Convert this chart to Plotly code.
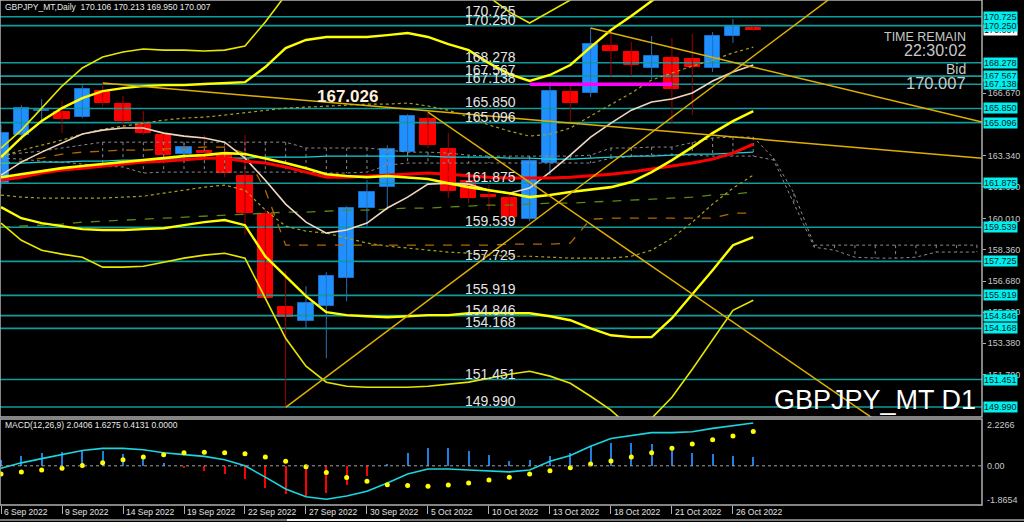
import plotly.graph_objects as go

# ---------------- data ----------------
dates = ["6 Sep 2022", "7 Sep 2022", "8 Sep 2022", "9 Sep 2022", "12 Sep 2022", "13 Sep 2022",
         "14 Sep 2022", "15 Sep 2022", "16 Sep 2022", "19 Sep 2022", "20 Sep 2022", "21 Sep 2022",
         "22 Sep 2022", "23 Sep 2022", "26 Sep 2022", "27 Sep 2022", "28 Sep 2022", "29 Sep 2022",
         "30 Sep 2022", "3 Oct 2022", "4 Oct 2022", "5 Oct 2022", "6 Oct 2022", "7 Oct 2022",
         "10 Oct 2022", "11 Oct 2022", "12 Oct 2022", "13 Oct 2022", "14 Oct 2022", "17 Oct 2022",
         "18 Oct 2022", "19 Oct 2022", "20 Oct 2022", "21 Oct 2022", "24 Oct 2022", "25 Oct 2022",
         "26 Oct 2022", "27 Oct 2022"]

opens = [161.88, 164.43, 165.74, 165.66, 165.39, 166.77, 166.08, 165.07, 164.44, 163.43, 163.59, 163.43,
         162.26, 160.24, 155.29, 154.55, 155.35, 156.83, 160.56, 161.67, 163.53, 165.29, 163.69, 161.99,
         161.25, 161.09, 159.97, 162.95, 166.72, 166.67, 169.17, 168.85, 168.00, 168.53, 168.48, 168.00,
         169.70, 170.106]
highs = [165.00, 166.03, 166.35, 166.24, 167.09, 167.20, 166.51, 165.71, 164.54, 164.01, 164.44, 164.01,
         164.44, 160.45, 157.21, 156.41, 157.15, 160.66, 162.04, 163.90, 165.55, 165.66, 164.54, 162.31,
         161.78, 161.35, 163.32, 167.25, 167.04, 170.12, 169.86, 169.38, 169.70, 169.59, 169.80, 169.91,
         170.60, 170.213]
lows = [161.60, 164.17, 165.07, 164.54, 165.34, 165.98, 164.81, 164.44, 163.27, 163.00, 163.11, 162.20,
        159.12, 155.66, 149.97, 154.12, 152.58, 155.61, 159.49, 160.61, 163.32, 163.75, 161.09, 160.82,
        160.45, 159.81, 159.86, 162.31, 165.13, 166.46, 167.57, 167.57, 167.41, 165.02, 165.50, 167.79,
        169.33, 169.950]
closes = [164.54, 165.87, 165.78, 165.28, 166.88, 166.14, 165.18, 164.54, 163.37, 163.80, 163.48, 162.42,
          160.29, 155.77, 154.76, 155.50, 156.94, 160.56, 161.41, 163.69, 165.45, 163.90, 161.46, 161.09,
          161.14, 160.08, 163.05, 166.77, 166.14, 169.27, 168.90, 168.16, 168.64, 166.88, 168.05, 169.70,
          170.25, 170.007]

# indicator lines (one value per bar)
ma_red = [162.04, 162.20, 162.42, 162.58, 162.68, 162.79, 162.90, 163.00, 163.05, 163.11, 163.21, 163.21,
          163.05, 162.95, 162.74, 162.47, 162.20, 162.20, 162.26, 162.31, 162.36, 162.42, 162.36, 162.26,
          162.20, 162.15, 162.15, 162.15, 162.20, 162.26, 162.36, 162.47, 162.63, 162.79, 162.95, 163.16,
          163.48, 163.96]
ma_yellow = [162.20, 162.36, 162.52, 162.68, 162.79, 162.90, 163.00, 163.11, 163.21, 163.32, 163.37, 163.48,
             163.43, 163.21, 162.95, 162.68, 162.36, 162.26, 162.20, 162.26, 162.20, 162.10, 161.88, 161.67,
             161.51, 161.35, 161.14, 161.25, 161.41, 161.56, 161.67, 161.94, 162.47, 163.11, 163.80, 164.54,
             165.18, 165.71]
band_up2 = [163.27, 164.30, 165.18, 165.87, 166.40, 166.77, 166.93, 167.04, 167.09, 167.09, 167.15, 167.20,
            167.25, 168.05, 169.06, 169.49, 169.65, 169.65, 169.65, 169.75, 169.86, 169.65, 169.27, 168.95,
            168.26, 167.68, 167.31, 167.63, 168.16, 169.11, 170.02, 170.76, 171.56, 172.25, 172.94, 173.47,
            173.85, 174.17]
band_up3 = [163.74, 164.70, 165.87, 167.04, 168.00, 168.58, 168.85, 169.01, 168.95, 168.95, 168.90, 168.95,
            169.17, 170.44, 171.88, 173.21, 173.74, 174.01, 174.01, 174.01, 173.74, 173.21, 172.68, 172.14,
            171.77, 170.98, 170.39, 170.98, 171.61, 172.25, 172.94, 173.74, 174.27, 174.80, 175.33, 175.87,
            176.40, 176.93]
band_lo2 = [160.61, 160.02, 159.76, 159.60, 159.44, 159.39, 159.39, 159.44, 159.49, 159.65, 159.81, 159.92,
            159.65, 157.99, 156.94, 155.88, 155.03, 154.87, 154.81, 154.76, 154.81, 154.87, 154.87, 154.97,
            154.97, 154.97, 154.97, 154.81, 154.60, 154.17, 153.80, 153.70, 153.70, 154.71, 155.98, 157.26,
            158.59, 159.01]
band_lo3 = [159.76, 158.85, 158.32, 158.11, 157.95, 157.42, 157.42, 157.47, 157.68, 157.90, 158.06, 158.16,
            157.90, 155.77, 153.64, 152.16, 151.31, 151.09, 151.04, 151.04, 151.04, 151.09, 151.20, 151.31,
            151.52, 151.73, 151.89, 151.63, 151.25, 150.56, 149.82, 148.86, 149.39, 150.51, 152.00, 153.59,
            155.13, 155.66]
ma_beige = [162.31, 163.00, 163.53, 164.01, 164.49, 164.70, 164.81, 164.81, 164.54, 164.38, 164.28, 164.06,
            163.21, 162.04, 160.77, 159.81, 159.23, 159.39, 159.76, 160.56, 161.14, 161.83, 161.88, 161.83,
            161.51, 161.35, 161.62, 162.47, 163.37, 164.33, 165.07, 165.76, 166.19, 166.35, 166.67, 167.31,
            167.79, 168.16]
ma_cyan = [162.95, 162.95, 163.00, 163.00, 163.05, 163.05, 163.11, 163.11, 163.16, 163.16, 163.21, 163.21,
           163.21, 163.27, 163.27, 163.27, 163.32, 163.32, 163.32, 163.32, 163.32, 163.32, 163.27, 163.27,
           163.27, 163.21, 163.21, 163.16, 163.16, 163.21, 163.27, 163.32, 163.32, 163.37, 163.43, 163.43,
           163.48, 163.53]
dot_up = [163.27, 163.64, 163.90, 164.17, 164.49, 164.75, 164.91, 165.07, 165.23, 165.34, 165.39, 165.50,
          165.61, 165.76, 165.87, 165.92, 165.98, 166.03, 166.08, 166.08, 166.14, 165.98, 165.76, 165.39,
          164.97, 164.65, 164.38, 164.49, 164.81, 165.45, 166.08, 166.67, 167.36, 167.73, 168.10, 168.42,
          168.80, 169.11]
dot_lo = [161.25, 161.14, 161.09, 161.09, 161.09, 161.09, 161.14, 161.19, 161.35, 161.51, 161.67, 161.78,
          161.51, 160.45, 159.60, 159.33, 159.23, 158.96, 158.70, 158.54, 158.43, 158.32, 158.22, 158.16,
          158.06, 158.00, 158.00, 157.95, 157.90, 157.90, 157.90, 158.00, 158.32, 158.96, 159.81, 160.77,
          161.62, 162.31]
kijun = [162.95, 163.05, 163.21, 163.43, 163.53, 163.59, 163.64, 163.64, 163.69, 163.75, 163.80, 163.80,
         163.48, 161.51, 158.59, 158.59, 158.59, 158.59, 158.59, 158.59, 158.59, 158.59, 158.59, 158.59,
         158.59, 158.64, 158.64, 158.64, 158.70, 159.97, 160.02, 160.02, 160.02, 160.02, 160.02, 160.02,
         160.29, 160.29]
ma_long = [159.55, 159.60, 159.65, 159.71, 159.81, 159.86, 159.92, 159.97, 160.02, 160.08, 160.13, 160.18,
           160.24, 160.29, 160.34, 160.34, 160.40, 160.45, 160.45, 160.50, 160.56, 160.56, 160.61, 160.66,
           160.72, 160.72, 160.77, 160.82, 160.82, 160.87, 160.93, 160.98, 161.03, 161.09, 161.14, 161.25,
           161.30, 161.41]
# cloud spans (extend 11 bars into the future)
span_a = [163.37, 163.48, 163.59, 163.75, 163.90, 164.06, 164.06, 164.06, 164.06, 164.06, 164.06, 164.06,
          164.06, 164.06, 164.06, 163.75, 163.75, 163.75, 163.75, 163.64, 163.53, 163.53, 163.48, 163.37,
          163.32, 163.32, 163.32, 163.32, 163.32, 163.37, 163.75, 163.75, 163.80, 163.80, 164.06, 164.28,
          164.33, 164.33, 163.21, 161.35, 158.59, 158.59, 158.59, 158.59, 158.59, 158.59, 158.59, 158.59,
          158.59]
span_b = [163.21, 163.16, 163.05, 163.00, 162.90, 162.79, 162.74, 162.42, 162.47, 162.47, 162.47, 162.47,
          162.47, 162.47, 162.47, 162.47, 162.42, 162.42, 162.47, 162.84, 162.95, 162.95, 162.95, 162.95,
          162.95, 162.95, 162.95, 162.95, 162.95, 162.95, 163.21, 163.27, 163.37, 163.37, 163.37, 163.32,
          163.32, 163.32, 163.11, 160.82, 158.48, 158.32, 157.95, 157.90, 157.90, 157.95, 158.22, 158.22,
          158.22]

# trend lines: (start bar, start price, end bar, end price)
trend_gold = [(14, 149.97, 41.0, 171.87),
              (29, 170.12, 48.25, 165.13),
              (5, 167.20, 48.25, 163.21),
              (21, 165.65, 43.0, 149.30)]
magenta_line = (26, 33, 167.138)

levels = [170.725, 170.250, 168.278, 167.567, 167.138, 165.850, 165.096, 161.875, 159.539,
          157.725, 155.919, 154.846, 154.168, 151.451, 149.990]
price_ticks = [166.670, 163.340, 161.690, 160.010, 158.360, 156.680, 155.020, 153.380, 151.700]
bid = 170.007

# MACD panel
macd_hist = [0.26, 0.49, 0.62, 0.65, 0.73, 0.70, 0.54, 0.45, 0.11, -0.11, -0.23, -0.39, -0.62, -1.05,
             -1.36, -1.44, -1.31, -0.90, -0.48, 0.06, 0.60, 0.83, 0.83, 0.70, 0.53, 0.23, 0.26, 0.49,
             0.62, 0.93, 1.07, 1.07, 1.04, 0.80, 0.62, 0.57, 0.49, 0.41]
macd_signal = [-0.39, -0.29, -0.20, -0.12, 0.02, 0.15, 0.29, 0.42, 0.53, 0.62, 0.65, 0.62, 0.57, 0.42,
               0.22, -0.05, -0.32, -0.56, -0.74, -0.90, -0.94, -0.97, -0.91, -0.82, -0.68, -0.54, -0.39,
               -0.23, -0.09, 0.09, 0.23, 0.42, 0.62, 0.83, 1.04, 1.24, 1.42, 1.63]
macd_main = [-0.12, 0.14, 0.34, 0.53, 0.73, 0.83, 0.83, 0.76, 0.62, 0.53, 0.45, 0.29, 0.0, -0.54, -1.10,
             -1.47, -1.59, -1.44, -1.21, -0.82, -0.39, -0.15, -0.15, -0.20, -0.23, -0.29, -0.20, 0.22,
             0.49, 0.93, 1.30, 1.45, 1.58, 1.58, 1.62, 1.78, 1.90, 2.04]
macd_range = (-1.8654, 2.2266)
date_tick_step = 3

# ---------------- figure ----------------
W, H = 1024, 522
M_L, M_R, M_T, M_B = 0, 42, 0, 17
PH = H - M_T - M_B
main_dom = [(PH - 417) / PH, 1.0]
macd_dom = [0.0, (PH - 419) / PH]
xr = [-0.05, 48.25]
price_range = [149.459, 171.613]

idx = list(range(len(dates)))
fig = go.Figure()

# horizontal levels
for lv in levels:
    fig.add_trace(go.Scatter(x=xr, y=[lv, lv], mode="lines",
                             line=dict(color="#0e9c9c", width=1.6), hoverinfo="skip", showlegend=False))

# candles: wicks
up = [c >= o for o, c in zip(opens, closes)]
for flag, col in ((True, "#2a6fb5"), (False, "#a00000")):
    wx, wy = [], []
    for i in idx:
        if up[i] == flag:
            wx += [i, i, None]
            wy += [lows[i], highs[i], None]
    fig.add_trace(go.Scatter(x=wx, y=wy, mode="lines", line=dict(color=col, width=1),
                             hoverinfo="skip", showlegend=False))
# candles: bodies
for flag, fill, edge in ((True, "#1e90ff", "#1a6fc4"), (False, "#ff0000", "#ff0000")):
    bx = [i for i in idx if up[i] == flag]
    base = [min(opens[i], closes[i]) for i in bx]
    hgt = [max(abs(closes[i] - opens[i]), 0.05) for i in bx]
    fig.add_trace(go.Bar(x=bx, y=hgt, base=base, width=0.74,
                         marker=dict(color=fill, line=dict(color=edge, width=1)),
                         hoverinfo="skip", showlegend=False))

# cloud (dotted grey)
cidx = list(range(len(span_a)))
vx, vy = [], []
for i in cidx:
    if i >= 5:
        vx += [i, i, None]
        vy += [span_a[i], span_b[i], None]
fig.add_trace(go.Scatter(x=vx, y=vy, mode="lines", line=dict(color="#8a8a8a", width=1, dash="dot"),
                         hoverinfo="skip", showlegend=False))
for s in (span_a, span_b):
    fig.add_trace(go.Scatter(x=cidx, y=s, mode="lines", line=dict(color="#8a8a8a", width=1, dash="dot"),
                             hoverinfo="skip", showlegend=False))

def add_line(vals, color, width, dash="solid"):
    fig.add_trace(go.Scatter(x=idx, y=vals, mode="lines", line=dict(color=color, width=width, dash=dash),
                             hoverinfo="skip", showlegend=False))

add_line(ma_long, "#5a8a10", 1.3, "dash")
add_line(kijun, "#b06a00", 1.3, "dash")
add_line(dot_up, "#a8a020", 1.2, "dot")
add_line(dot_lo, "#a8a020", 1.2, "dot")
add_line(ma_cyan, "#17d0d8", 1.3)
add_line(ma_beige, "#f0d8c0", 1.6)
add_line(band_up3, "#e6e600", 1.6)
add_line(band_lo3, "#e6e600", 1.6)
add_line(band_up2, "#ffff00", 2.4)
add_line(band_lo2, "#ffff00", 2.4)
add_line(ma_red, "#ff0000", 3.0)
add_line(ma_yellow, "#ffff00", 2.6)

# trend lines
for (x0, y0, x1, y1) in trend_gold:
    fig.add_trace(go.Scatter(x=[x0, x1], y=[y0, y1], mode="lines", line=dict(color="#e0b000", width=1.5),
                             hoverinfo="skip", showlegend=False))
fig.add_trace(go.Scatter(x=[magenta_line[0], magenta_line[1]], y=[magenta_line[2]] * 2, mode="lines",
                         line=dict(color="#ff00ff", width=3.5), hoverinfo="skip", showlegend=False))

# MACD
hist_col = ["#1e7fe0" if v >= 0 else "#ff0000" for v in macd_hist]
fig.add_trace(go.Bar(x=idx, y=macd_hist, width=0.1, marker=dict(color=hist_col, line=dict(width=0)),
                     xaxis="x2", yaxis="y2", hoverinfo="skip", showlegend=False))
fig.add_trace(go.Scatter(x=idx, y=macd_main, mode="lines", line=dict(color="#1ad6e0", width=1.6),
                         xaxis="x2", yaxis="y2", hoverinfo="skip", showlegend=False))
fig.add_trace(go.Scatter(x=idx, y=macd_signal, mode="markers", marker=dict(color="#ffff00", size=5),
                         xaxis="x2", yaxis="y2", hoverinfo="skip", showlegend=False))

shapes = [
    dict(type="line", xref="paper", yref="y2", x0=0, x1=1, y0=0, y1=0,
         line=dict(color="#a0a0a0", width=1, dash="dot")),
    dict(type="rect", xref="paper", yref="paper", x0=0, x1=1, y0=main_dom[0], y1=main_dom[1],
         line=dict(color="#b0b0b0", width=1.5)),
    dict(type="rect", xref="paper", yref="paper", x0=0, x1=1, y0=macd_dom[0], y1=macd_dom[1],
         line=dict(color="#b0b0b0", width=1.5)),
    dict(type="line", xref="paper", yref="paper", x0=0, x1=W / (W - M_R), y0=-(520 - PH) / PH,
         y1=-(520 - PH) / PH, line=dict(color="#a0a0a0", width=1.5)),
    dict(type="line", xref="paper", yref="paper", x0=287 / (W - M_R), x1=400 / (W - M_R),
         y0=-(520 - PH) / PH, y1=-(520 - PH) / PH, line=dict(color="#f0f0f0", width=2)),
]

FONT = "Liberation Sans, Arial, sans-serif"
ann = []
# level text labels on chart
for lv in levels:
    ann.append(dict(x=22.7, y=lv, xref="x", yref="y", text=f"{lv:.3f}", showarrow=False,
                    xanchor="left", yanchor="bottom", yshift=-4,
                    font=dict(family=FONT, size=14, color="#e4e4e4")))
ann.append(dict(x=15.45, y=166.51, xref="x", yref="y", text="<b>167.026</b>", showarrow=False,
                xanchor="left", yanchor="middle", font=dict(family=FONT, size=17, color="#fff0dc")))
# bid box
ann.append(dict(x=1, y=bid, xref="paper", yref="y", text=f"{bid:.3f}", showarrow=False, xanchor="left",
                xshift=1, bgcolor="#ffffff", borderpad=0, font=dict(family=FONT, size=9, color="#000000")))
for lv in levels:
    ann.append(dict(x=1, y=lv, xref="paper", yref="y", text=f"{lv:.3f}", showarrow=False, xanchor="left",
                    xshift=1, bgcolor="#00f0f0", borderpad=0, font=dict(family=FONT, size=9, color="#002020")))
# header texts
ann.append(dict(x=0.003, y=(PH - 7) / PH, xref="paper", yref="paper",
                text="GBPJPY_MT,Daily  170.106 170.213 169.950 170.007", showarrow=False,
                xanchor="left", yanchor="middle", font=dict(family=FONT, size=8.5, color="#e8e8e8")))
ann.append(dict(x=0.003, y=(PH - 425) / PH, xref="paper", yref="paper",
                text="MACD(12,26,9) 2.0406 1.6275 0.4131 0.0000", showarrow=False,
                xanchor="left", yanchor="middle", font=dict(family=FONT, size=8.5, color="#e8e8e8")))
for txt, ypx, sz in (("TIME REMAIN", 37, 12.5), ("22:30:02", 51, 16), ("Bid", 69, 14), ("170.007", 83, 16.5)):
    ann.append(dict(x=968 / (W - M_R), y=(PH - ypx) / PH, xref="paper", yref="paper", text=txt,
                    showarrow=False, xanchor="right", yanchor="middle",
                    font=dict(family=FONT, size=sz, color="#c8c8c8")))
ann.append(dict(x=978 / (W - M_R), y=(PH - 400) / PH, xref="paper", yref="paper", text="GBPJPY_MT D1",
                showarrow=False, xanchor="right", yanchor="middle",
                font=dict(family=FONT, size=27, color="#ffffff")))
# MACD scale labels
for txt, ypx in (("2.2266", 425), ("0.00", 466), ("-1.8654", 500)):
    ann.append(dict(x=1, y=(PH - ypx) / PH, xref="paper", yref="paper", text=txt, showarrow=False,
                    xanchor="left", xshift=3, yanchor="middle",
                    font=dict(family=FONT, size=9, color="#c8c8c8")))
# date labels
date_ticks = idx[::date_tick_step]
for i in date_ticks:
    ann.append(dict(x=i, y=(PH - 512) / PH, xref="x2", yref="paper", text=dates[i], showarrow=False,
                    xanchor="left", xshift=1, yanchor="middle",
                    font=dict(family=FONT, size=8.5, color="#e0e0e0")))

fig.update_layout(
    width=W, height=H, margin=dict(l=M_L, r=M_R, t=M_T, b=M_B, autoexpand=False),
    paper_bgcolor="#000000", plot_bgcolor="#000000", barmode="overlay", bargap=0,
    showlegend=False, shapes=shapes, annotations=ann, hovermode=False,
    xaxis=dict(domain=[0, 1], range=xr, showgrid=False, zeroline=False, showticklabels=False,
               anchor="y", fixedrange=True),
    yaxis=dict(domain=main_dom, range=price_range, side="right", showgrid=False, zeroline=False,
               tickvals=price_ticks, ticktext=[f"{v:.3f}" for v in price_ticks], ticks="outside",
               ticklen=3, tickcolor="#b0b0b0", tickfont=dict(family=FONT, size=9, color="#c8c8c8"),
               anchor="x", fixedrange=True),
    xaxis2=dict(domain=[0, 1], range=xr, showgrid=False, zeroline=False, showticklabels=False,
                tickvals=date_ticks, ticks="outside", ticklen=8, tickcolor="#b0b0b0", anchor="y2",
                fixedrange=True),
    yaxis2=dict(domain=macd_dom, range=list(macd_range), side="right", showgrid=False, zeroline=False,
                showticklabels=False, anchor="x2", fixedrange=True),
)

fig.write_html("out.html", config={"displayModeBar": False},
               post_script="document.body.style.margin='0';")
